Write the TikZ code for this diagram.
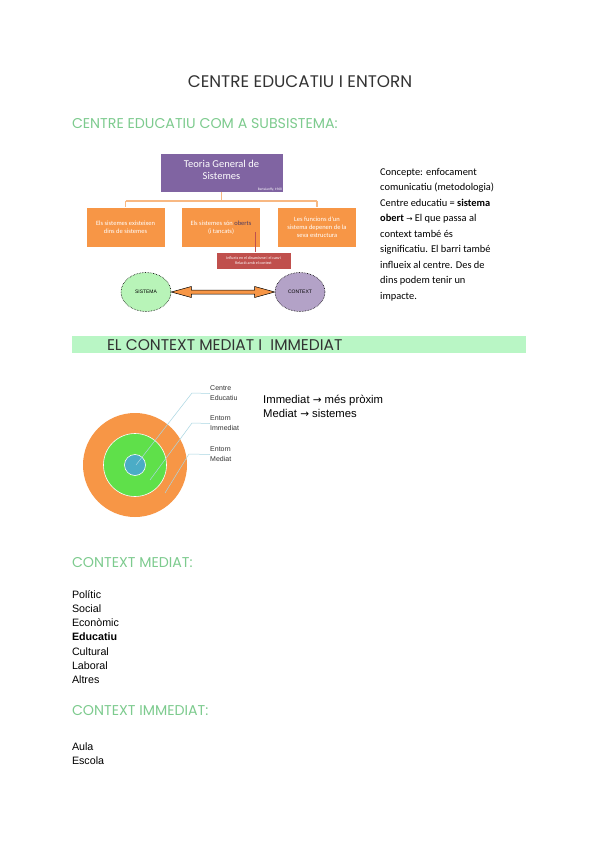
\documentclass[tikz,border=0pt]{standalone}
\usepackage{fontspec}
\usetikzlibrary{shapes.geometric,calc}
\setmainfont{Liberation Sans}
\newfontfamily\headfont{Poppins}
\newfontfamily\calfont{Carlito}
\newfontfamily\symfont{DejaVu Sans}
\definecolor{hgreen}{HTML}{7DCB8E}
\definecolor{bandgreen}{HTML}{B9F6C5}
\definecolor{tpurple}{HTML}{8064A2}
\definecolor{torange}{HTML}{F79646}
\definecolor{lorange}{HTML}{F8B882}
\definecolor{tred}{HTML}{C0504D}
\definecolor{elgreen}{HTML}{B8F4B8}
\definecolor{elpurple}{HTML}{B3A2C7}
\definecolor{cgreen}{HTML}{5FE04A}
\definecolor{cblue}{HTML}{4BACC6}
\definecolor{leader}{HTML}{A9D6E2}
\definecolor{darktext}{HTML}{333333}
\tikzset{
  txt/.style={anchor=base west, inner sep=0pt, outer sep=0pt},
  heading/.style={txt, font=\headfont\fontsize{14.2}{16}\selectfont, text=hgreen},
  listitem/.style={txt, font=\fontsize{10.7}{12}\selectfont, text=black},
  obox/.style={draw=white, line width=0.4pt, fill=torange, text=white, align=center, inner sep=1pt,
     minimum width=79pt, minimum height=40pt, font=\calfont\fontsize{6.5}{8}\selectfont},
  conn/.style={draw=lorange, line width=1.2pt},
  ell/.style={ellipse, draw=black, densely dotted, line width=0.6pt, minimum width=50pt, minimum height=39pt,
     font=\fontsize{5}{6}\selectfont},
  lead/.style={draw=leader, line width=0.5pt},
  clabel/.style={anchor=west, inner sep=0pt, align=left, font=\fontsize{7}{10}\selectfont, text=darktext},
}
\begin{document}
\begin{tikzpicture}[x=1pt,y=-1pt]
\fill[white] (0,0) rectangle (600,848);
\useasboundingbox (0,0) rectangle (600,848);

% title
\node[anchor=base, inner sep=0pt, font=\headfont\fontsize{16.8}{18}\selectfont, text=darktext] (title) at (300,88) {CENTRE EDUCATIU I ENTORN};
\node[heading] (h1) at (72,128.5) {CENTRE EDUCATIU COM A SUBSISTEMA:};

% org chart
\node[draw=white, fill=tpurple, minimum width=123pt, minimum height=39pt, inner sep=0pt] (tgs) at (221.5,172.5) {};
\node[text=white, align=center, font=\calfont\fontsize{10.5}{11.5}\selectfont] (tgst) at (221.5,170) {Teoria General de\\Sistemes};
\node[anchor=south east, inner sep=1pt, text=white, font=\calfont\fontsize{3.5}{4}\selectfont] (tgsr) at (tgs.south east) {Bertalanffy, 1968};

\node[obox] (b1) at (125.5,227.5) {Els sistemes existeixen\\dins de sistemes};
\node[obox] (b2) at (221,227.5) {Els sistemes són \textcolor{tpurple!60!black}{oberts}\\(i tancats)};
\node[obox] (b3) at (317,227.5) {Les funcions d'un\\sistema depenen de la\\seva estructura};

\coordinate (jn) at (221.5,201);
\coordinate (jl) at (125.5,201);
\coordinate (jr) at (317,201);
\draw[conn] (tgs.south) -- (jn);
\draw[conn] (jl) -- (jr);
\draw[conn] (jl) -- (b1.north);
\draw[conn] (jr) -- (b3.north);

\node[draw=white, fill=tred, text=white, align=center, inner sep=0.5pt, minimum width=75pt, minimum height=17pt,
  font=\calfont\fontsize{4}{5}\selectfont] (rb) at (253.5,260.5) {Influeix en el dinamisme i el canvi\\Relació amb el context};
\coordinate (ob) at (255,232);
\draw[tred, line width=0.8pt] (ob) -- (ob |- rb.north);

\node[ell, fill=elgreen] (sis) at (146,292) {SISTEMA};
\node[ell, fill=elpurple] (ctx) at (300,292) {CONTEXT};
\fill[torange, draw=black, line width=0.5pt]
  (sis.east) -- ++(20,-5.5) -- ++(0,3.5) -- ($(ctx.west)+(-20,-2)$) -- ++(0,-3.5) -- (ctx.west)
  -- ++(-20,5.5) -- ++(0,-3.5) -- ($(sis.east)+(20,2)$) -- ++(0,3.5) -- cycle;

% right paragraph
\node[anchor=north west, inner sep=0pt, align=left, font=\calfont\fontsize{10.4}{15.5}\selectfont, text=black] (para) at (380,168)
{Concepte: enfocament\\
comunicatiu (metodologia)\\
Centre educatiu = \textbf{sistema}\\
\textbf{obert} {\symfont\fontsize{7.5}{8}\selectfont →} El que passa al\\
context també és\\
significatiu. El barri també\\
influeix al centre. Des de\\
dins podem tenir un\\
impacte.};

% band
\fill[bandgreen] (72,336) rectangle (526,353);
\node[txt, font=\headfont\fontsize{15.5}{17}\selectfont, text=darktext] (band) at (107,350) {EL CONTEXT MEDIAT I\ \ IMMEDIAT};

% circles
\fill[torange] (135,465) circle (52);
\draw[white, line width=0.6pt, fill=cgreen] (135,465) circle (31.5);
\draw[white, line width=0.6pt, fill=cblue] (135,465) circle (10.5);

\node[clabel] (l1) at (210,393.5) {Centre\\Educatiu};
\node[clabel] (l2) at (210,423.5) {Entorn\\Immediat};
\node[clabel] (l3) at (210,454.5) {Entorn\\Mediat};
\coordinate (p1) at (136,465);
\coordinate (p2) at (150,480);
\coordinate (p3) at (165,493);
\coordinate (k1) at (192,393);
\coordinate (k2) at (192,423);
\coordinate (k3) at (189,454);
\draw[lead] (p1) -- (k1) -- (l1.west);
\draw[lead] (p2) -- (k2) -- (l2.west);
\draw[lead] (p3) -- (k3) -- (l3.west);

\node[anchor=north west, inner sep=0pt, align=left, font=\fontsize{11.3}{14}\selectfont, text=black] (imm) at (263,395)
{Immediat {\symfont\fontsize{10.5}{10}\selectfont →} més pròxim\\Mediat {\symfont\fontsize{10.5}{10}\selectfont →} sistemes};

% lists
\node[heading] (h2) at (72,567) {CONTEXT MEDIAT:};
\node[listitem] (i1) at (72,598) {Polític};
\node[listitem] (i2) at (72,612.3) {Social};
\node[listitem] (i3) at (72,626.6) {Econòmic};
\node[listitem, font=\bfseries\fontsize{10.7}{12}\selectfont] (i4) at (72,640.9) {Educatiu};
\node[listitem] (i5) at (72,655.2) {Cultural};
\node[listitem] (i6) at (72,669.5) {Laboral};
\node[listitem] (i7) at (72,683.8) {Altres};

\node[heading] (h3) at (72,715) {CONTEXT IMMEDIAT:};
\node[listitem] (j1) at (72,750) {Aula};
\node[listitem] (j2) at (72,764.3) {Escola};
\end{tikzpicture}
\end{document}
